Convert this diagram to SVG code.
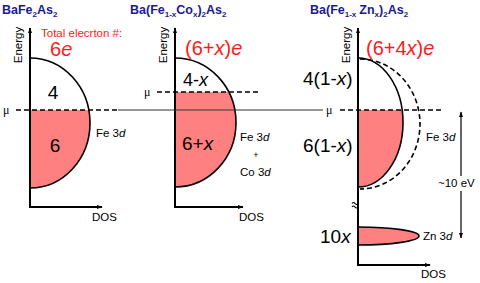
<svg xmlns="http://www.w3.org/2000/svg" width="480" height="283" viewBox="0 0 480 283">
<defs>
<marker id="ah" viewBox="0 0 10 10" refX="9" refY="5" markerWidth="6" markerHeight="6" orient="auto-start-reverse" markerUnits="userSpaceOnUse">
<path d="M0,1.5 L10,5 L0,8.5 Z" fill="#000"/>
</marker>
<style>
text{font-family:"Liberation Sans",Arial,sans-serif;fill:#000}
.title{font-size:12.5px;font-weight:bold;fill:#1b1b8f}
.sub{font-size:8px}
.red{fill:#ff1a1a}
.big{font-size:19px}
.lbl{font-size:11.5px}
.axis{stroke:#000;stroke-width:2;fill:none}
.curve{stroke:#000;stroke-width:1.6;fill:none}
.dash{stroke:#000;stroke-width:1.6;stroke-dasharray:5,3;fill:none}
.pink{fill:#ff8080;stroke:none}
.mu{font-family:"Liberation Serif","Times New Roman",serif;font-size:12px}
</style>
</defs>
<rect width="480" height="283" fill="#fff"/>

<!-- titles -->
<text class="title" x="2" y="14">BaFe<tspan class="sub" dy="3">2</tspan><tspan dy="-3">As</tspan><tspan class="sub" dy="3">2</tspan></text>
<text class="title" x="130" y="14">Ba(Fe<tspan class="sub" dy="3">1-x</tspan><tspan dy="-3">Co</tspan><tspan class="sub" dy="3">x</tspan><tspan dy="-3">)</tspan><tspan class="sub" dy="3">2</tspan><tspan dy="-3">As</tspan><tspan class="sub" dy="3">2</tspan></text>
<text class="title" x="310" y="14">Ba(Fe<tspan class="sub" dy="3">1-x</tspan><tspan dx="3" dy="-3">Zn</tspan><tspan class="sub" dy="3">x</tspan><tspan dy="-3">)</tspan><tspan class="sub" dy="3">2</tspan><tspan dy="-3">As</tspan><tspan class="sub" dy="3">2</tspan></text>

<!-- Panel 1 -->
<g id="panel1">
<path class="pink" d="M30,110 L88.8,110 A60,65 0 0 1 30,188 Z"/>
<path class="curve" d="M30,58 A60,65 0 0 1 30,188"/>
<text class="lbl red" x="41" y="37">Total elecrton #:</text>
<text class="red" x="50" y="56" style="font-size:20px">6<tspan font-style="italic">e</tspan></text>
<text class="big" x="53" y="99" text-anchor="middle">4</text>
<text class="big" x="55" y="152" text-anchor="middle">6</text>
<text class="lbl" x="96" y="137">Fe 3<tspan font-style="italic">d</tspan></text>
</g>

<!-- Panel 2 -->
<g id="panel2">
<path class="pink" d="M175,92 L228.8,92 A61,64.5 0 0 1 175,187 Z"/>
<path class="curve" d="M175,58 A61,64.5 0 0 1 175,187"/>
<text class="red" x="185" y="55" style="font-size:20px">(6+<tspan font-style="italic">x</tspan>)<tspan font-style="italic">e</tspan></text>
<text class="big" x="183" y="86" style="font-size:18px">4-<tspan font-style="italic">x</tspan></text>
<text class="big" x="182" y="150">6+<tspan font-style="italic">x</tspan></text>
<text class="lbl" x="240" y="141">Fe 3<tspan font-style="italic">d</tspan></text>
<text class="lbl" x="256" y="158" text-anchor="middle" style="font-size:9px">+</text>
<text class="lbl" x="240" y="176">Co 3<tspan font-style="italic">d</tspan></text>
</g>

<!-- Panel 3 -->
<g id="panel3">
<path class="pink" d="M358,110 L402.1,110 A45,64.5 0 0 1 358,187 Z"/>
<path class="curve" d="M358,58 A45,64.5 0 0 1 358,187"/>
<path class="dash" d="M360,59 A60,65 0 0 1 360,189"/>
<path class="pink" d="M358,227 A61,9 0 0 1 358,245 Z"/>
<path class="curve" d="M358,227 A61,9 0 0 1 358,245"/>
<text class="red" x="366" y="55" style="font-size:20px">(6+4<tspan font-style="italic">x</tspan>)<tspan font-style="italic">e</tspan></text>
<text class="big" x="303" y="85">4(1-<tspan font-style="italic">x</tspan>)</text>
<text class="big" x="303" y="152">6(1-<tspan font-style="italic">x</tspan>)</text>
<text class="lbl" x="426" y="141">Fe 3<tspan font-style="italic">d</tspan></text>
<text class="big" x="320" y="243">10<tspan font-style="italic">x</tspan></text>
<text class="lbl" x="423" y="240">Zn 3<tspan font-style="italic">d</tspan></text>
</g>

<!-- connectors / axes / lines -->
<g id="connectors">
<path class="axis" d="M30,207 L30,28" marker-end="url(#ah)"/>
<path class="axis" d="M29,207 L102,207" marker-end="url(#ah)"/>
<path class="axis" d="M175,207 L175,28" marker-end="url(#ah)"/>
<path class="axis" d="M174,207 L243,207" marker-end="url(#ah)"/>
<path class="axis" d="M358,265 L358,28" marker-end="url(#ah)"/>
<path class="axis" d="M357,265 L430,265" marker-end="url(#ah)"/>
<path d="M352,203.5 q1.5,-2 3,0 t3,0" stroke="#000" stroke-width="1.2" fill="none"/>
<path d="M352,207 q1.5,-2 3,0 t3,0" stroke="#000" stroke-width="1.2" fill="none"/>
<path class="dash" d="M16,110 L118,110"/>
<path d="M118,110 L323,110" stroke="#333" stroke-width="1.2"/>
<path class="dash" d="M157,92 L258,92"/>
<path class="dash" d="M340,110 L443,110"/>
<path d="M461,112 L461,238" stroke="#000" stroke-width="1.2" fill="none" marker-start="url(#ah)" marker-end="url(#ah)"/>
<rect x="440" y="176" width="34" height="15" fill="#fff"/>
</g>

<g id="labels">
<text class="mu" x="3" y="114">μ</text>
<text class="mu" x="144" y="96">μ</text>
<text class="mu" x="326" y="114">μ</text>
<text class="lbl" x="18" y="45" text-anchor="middle" transform="rotate(-90 18 45)" dy="4">Energy</text>
<text class="lbl" x="163" y="45" text-anchor="middle" transform="rotate(-90 163 45)" dy="4">Energy</text>
<text class="lbl" x="346" y="45" text-anchor="middle" transform="rotate(-90 346 45)" dy="4">Energy</text>
<text class="lbl" x="92" y="221">DOS</text>
<text class="lbl" x="239" y="221">DOS</text>
<text class="lbl" x="421" y="278">DOS</text>
<text class="lbl" x="438" y="187">~10 eV</text>
</g>
</svg>
